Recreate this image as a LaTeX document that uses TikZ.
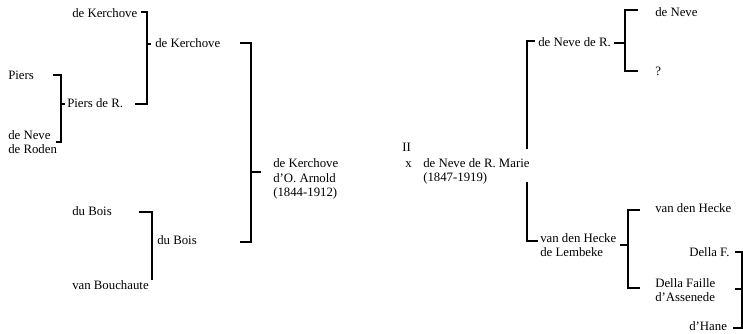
\documentclass[tikz,border=0pt]{standalone}
\usepackage{fontspec}
\setmainfont{Liberation Serif}
\tikzset{
  bracket/.style={line width=1.3pt},
  person/.style={anchor=base west, inner sep=0pt, align=left, font=\fontsize{9.6}{10.9}\selectfont}
}
\begin{document}
\begin{tikzpicture}[x=0.75pt,y=0.75pt,yscale=-1,xscale=1]
\useasboundingbox (0,0) rectangle (743,334);

% Text Node: grandparents, left side
\node[person] (gKer) at (72,17.5) {de Kerchove};
\node[person] (gPiers) at (8,79.5) {Piers};
\node[person] (gNeve) at (8,154) {de Neve\\de Roden};
\node[person] (gBois) at (72,215.5) {du Bois};
\node[person] (gBouch) at (72,289.5) {van Bouchaute};
% Text Node: parents, left side
\node[person] (pKer) at (155,47.5) {de Kerchove};
\node[person] (pPiers) at (67,107.5) {Piers de R.};
\node[person] (pBois) at (157,244.5) {du Bois};
% Text Node: the couple
\node[person] (arnold) at (273,197) {de Kerchove\\d'O. Arnold\\(1844-1912)};
\node[person] (marNo) at (402,151.5) {II};
\node[person] (marX) at (405,167.5) {x};
\node[person] (marie) at (423,182) {de Neve de R. Marie\\(1847-1919)};
% Text Node: parents, right side
\node[person] (mNeve) at (538,46.5) {de Neve de R.};
\node[person] (mHecke) at (540,257) {van den Hecke\\de Lembeke};
% Text Node: grandparents, right side
\node[person] (ggNeve) at (655,16.5) {de Neve};
\node[person] (ggQ) at (655,75.5) {?};
\node[person] (ggHecke) at (655,212.5) {van den Hecke};
\node[person] (ggFaille) at (655,302) {Della Faille\\d'Assenede};
\node[person] (gggF) at (689,256.5) {Della F.};
\node[person] (gggHane) at (689,330.5) {d'Hane};

% Bracket corners
\coordinate (kerT) at (147,12);  \coordinate (kerB) at (147,104);
\coordinate (piersT) at (61,75); \coordinate (piersB) at (61,142);
\coordinate (boisT) at (152,212); \coordinate (boisB) at (152,280);
\coordinate (arnT) at (251,43);  \coordinate (arnB) at (251,242);
\coordinate (marT) at (527,41);  \coordinate (marB) at (527,241);
\coordinate (nevT) at (625,10);  \coordinate (nevB) at (625,71);
\coordinate (hecT) at (628,210); \coordinate (hecB) at (628,288);
\coordinate (faiT) at (742,252); \coordinate (faiB) at (742,328);

% Brackets, left side
\draw[bracket] ([xshift=-4.5]kerT) -- (kerT) -- (kerB) -- ([xshift=-9]kerB);
\draw[bracket] (147,44) -- (151,44);
\draw[bracket] ([xshift=-6]piersT) -- (piersT) -- (piersB) -- ([xshift=-4]piersB);
\draw[bracket] (61,104) -- (65,104);
\draw[bracket] ([xshift=-10]boisT) -- (boisT) -- (boisB);
\draw[bracket] ([xshift=-8]arnT) -- (arnT) -- (arnB) -- ([xshift=-8]arnB);
\draw[bracket] (251,172) -- (261,172);

% Brackets, right side
\draw[bracket] ([xshift=6]marT) -- (marT) -- (527,149);
\draw[bracket] (527,182) -- (marB) -- ([xshift=8]marB);
\draw[bracket] ([xshift=10]nevT) -- (nevT) -- (nevB) -- ([xshift=10]nevB);
\draw[bracket] (614,43) -- (625,43);
\draw[bracket] ([xshift=9]hecT) -- (hecT) -- (hecB) -- ([xshift=9]hecB);
\draw[bracket] (620,245) -- (628,245);
\draw[bracket] ([xshift=-5]faiT) -- (faiT) -- (faiB) -- ([xshift=-7]faiB);
\draw[bracket] (735,289) -- (742,289);
\end{tikzpicture}
\end{document}
